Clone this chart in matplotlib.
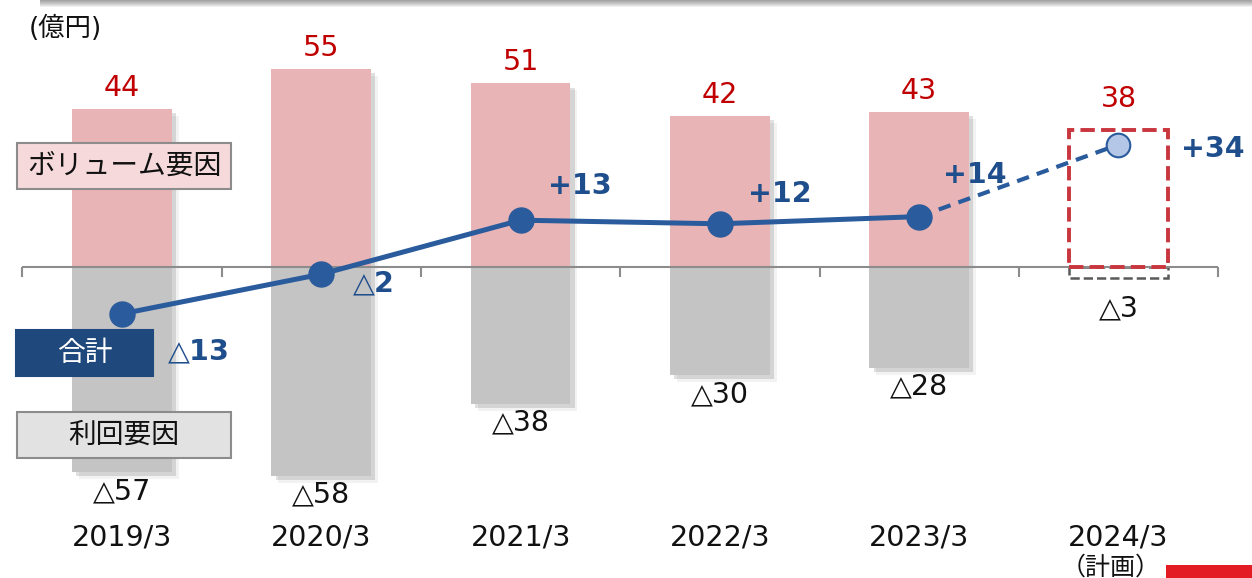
import matplotlib
matplotlib.use('Agg')
import matplotlib.pyplot as plt
import matplotlib.patheffects as pe
from matplotlib.patches import Rectangle
from matplotlib.transforms import blended_transform_factory
import numpy as np

plt.rcParams['font.family'] = ['DejaVu Sans', 'Noto Sans CJK JP']

# data (億円)
years = ['2019/3', '2020/3', '2021/3', '2022/3', '2023/3', '2024/3']
volume = [44, 55, 51, 42, 43, 38]          # ボリューム要因
rate = [-57, -58, -38, -30, -28, -3]       # 利回要因
total = [-13, -2, 13, 12, 14, 34]          # 合計

# label offsets for the total values (pixels)
total_offsets = [(76, -39), (51, -10), (59, 34), (60, 30), (56, 42), (94, -4)]

W, H = 1252, 578
fig = plt.figure(figsize=(W / 100, H / 100), dpi=100)
ax = fig.add_axes([0, 0, 1, 1])
ax.set_xlim(-0.612, 5.67)
ax.set_ylim(-86.4, 74.17)
ax.axis('off')

x = np.arange(len(years))
pink = '#E9B4B5'
grey = '#C4C4C4'
blue = '#2A5B9C'
shadow = [pe.SimplePatchShadow(offset=(5, -5), shadow_rgbFace='black', alpha=0.05),
          pe.SimplePatchShadow(offset=(3, -3), shadow_rgbFace='black', alpha=0.12),
          pe.Normal()]

# actual years
ax.bar(x[:-1], volume[:-1], width=0.5, color=pink, zorder=2, path_effects=shadow)
ax.bar(x[:-1], rate[:-1], width=0.5, color=grey, zorder=2, path_effects=shadow)
# plan year: dashed outline only
ax.bar(x[-1], rate[-1], width=0.5, fill=False, edgecolor='#595959', linestyle='--', linewidth=1.8, zorder=2)
ax.bar(x[-1], volume[-1], width=0.5, fill=False, edgecolor='#C9363E', linestyle='--', linewidth=2.8, zorder=4)

# category axis
ax.hlines(0, -0.5, 5.5, color='#8C8C8C', lw=1.5, zorder=3)
ax.vlines(np.arange(-0.5, 6), -2.8, 0, color='#8C8C8C', lw=1.5, zorder=3)

# total line
ax.plot(x[:-1], total[:-1], color=blue, lw=3.6, marker='o', markersize=18, zorder=5)
ax.plot(x[-2:], total[-2:], color=blue, lw=3, dashes=(3, 2), zorder=5)
ax.plot(x[-1], total[-1], marker='o', markersize=17, markerfacecolor='#B4C7E7',
        markeredgecolor=blue, markeredgewidth=1.5, zorder=6)

for i in range(len(years)):
    up = 23 if i == len(years) - 1 else 13
    ax.annotate(str(volume[i]), (x[i], volume[i]), xytext=(0, up), textcoords='offset pixels',
                ha='center', va='baseline', fontsize=20.5, color='#C00000')
    down = 17 if i == len(years) - 1 else 5
    ax.annotate('△' + str(abs(rate[i])), (x[i], rate[i]), xytext=(0, -down), textcoords='offset pixels',
                ha='center', va='top', fontsize=20.5, color='#111111')
    if total[i] > 0:
        lab = '+%d' % total[i]
    else:
        lab = '△$\\mathbf{%d}$' % abs(total[i])
    ax.annotate(lab, (x[i], total[i]), xytext=total_offsets[i], textcoords='offset pixels',
                ha='center', va='center', fontsize=20.5, fontweight='bold', color='#1F4E8C', zorder=7)

tr = blended_transform_factory(ax.transData, ax.transAxes)
for i, yr in enumerate(years):
    ax.text(x[i], 1 - 537 / H, yr, transform=tr, ha='center', va='center', fontsize=20.5, color='#111111')
ax.text(x[-1] - 0.04, 1 - 568 / H, '（計画）', transform=tr, ha='center', va='center', fontsize=18, color='#111111')

def fx(px, py):
    return px / W, 1 - py / H

fig.text(*fx(29, 29), '(億円)', ha='left', va='center', fontsize=19, color='#111111')

# legend boxes
def box(x0, y0, x1, y1, face, edge, text, tcolor):
    fig.patches.append(Rectangle(fx(x0, y1), (x1 - x0) / W, (y1 - y0) / H, transform=fig.transFigure,
                                 facecolor=face, edgecolor=edge, lw=1.5, zorder=8))
    fig.text(*fx((x0 + x1) / 2, (y0 + y1) / 2), text, ha='center', va='center',
             fontsize=20, color=tcolor, zorder=9)

box(17, 143, 231, 189, '#F6DADB', '#8C8C8C', 'ボリューム要因', '#111111')
box(16, 330, 153, 376, '#1F497D', '#1F497D', '合計', 'white')
box(17, 412, 231, 458, '#E2E2E2', '#8C8C8C', '利回要因', '#111111')

# top shadow of the frame above and red bar at the bottom right
for k in range(7):
    fig.patches.append(Rectangle(fx(40, k + 1), 1 - 40 / W, (k + 1) / H, transform=fig.transFigure,
                                 facecolor='black', alpha=0.06, lw=0))
fig.patches.append(Rectangle(fx(1166, 578), 1, 13 / H, transform=fig.transFigure,
                             facecolor='#E31B23', lw=0))

fig.savefig('out.png', dpi=100)
